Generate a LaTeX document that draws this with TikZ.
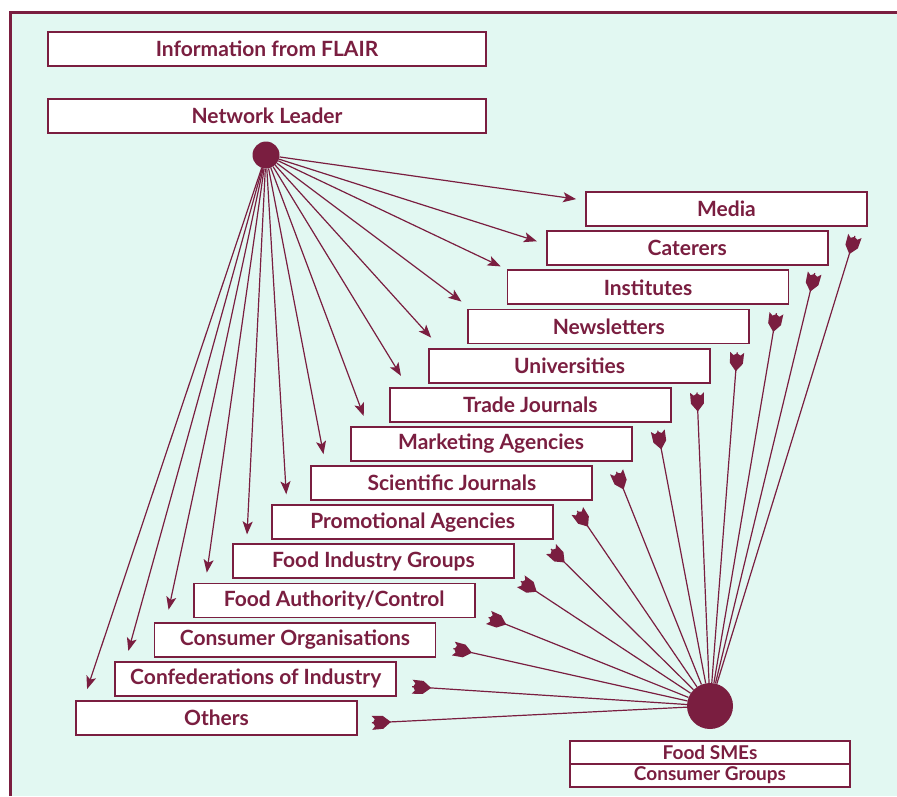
\documentclass[tikz,border=0pt]{standalone}
\usepackage{fontspec}
\setmainfont{Lato}
\usetikzlibrary{arrows.meta,decorations.markings,calc}
\definecolor{dred}{HTML}{7A1E40}
\definecolor{mint}{HTML}{E2F8F2}
\begin{document}
\begin{tikzpicture}[x=1pt,y=-1pt,
  box/.style={draw=dred, line width=1.8pt, fill=white, minimum width=281pt,
    minimum height=34pt, inner sep=0pt, text=dred,
    font=\fontsize{21}{24}\selectfont\bfseries},
  smallbox/.style={box, minimum width=280pt, minimum height=23pt,
    font=\fontsize{19}{21}\selectfont\bfseries},
  hub/.style={circle, fill=dred, draw=none, inner sep=0pt},
  conn/.style={draw=dred, line width=1.2pt},
  outarrow/.style={conn, -{Stealth[length=13pt,width=10pt,inset=3pt]}},
  tulip/.style={conn, postaction={decorate}, decoration={markings,
    mark=at position 1 with {\fill[dred] (0,7) -- (-3,3.5) -- (-1,0) -- (-3,-3.5)
      -- (0,-7) -- (-11,-6.5) -- (-19,0) -- (-11,6.5) -- cycle;}}}
]
\useasboundingbox (0,0) rectangle (897,796);
\fill[white] (0,0) rectangle (897,796);
\fill[mint] (10,12) rectangle (897,796);
\draw[dred, line width=3pt] (10,796) -- (10,12) -- (897,12);

\node[box, minimum width=438pt] (flair) at (267,49) {Information from FLAIR};
\node[box, minimum width=438pt] (leader) at (267,116) {Network Leader};
\node[hub, minimum size=27pt] (top) at (266,155) {};
\node[hub, minimum size=46pt] (bot) at (710,706) {};
\node[smallbox] (sme) at (710,752.5) {Food SMEs};
\node[smallbox] (cg) at (710,775.5) {Consumer Groups};

\foreach \i/\t/\ax/\ay/\bx/\by in {
  0/Media/-9/8/-13/9,
  1/Caterers/-9/11/-14/7,
  2/Institutes/-6/-3/-13/8,
  3/Newsletters/-6/-7/-13/8,
  4/Universities/3/-10/-14/9,
  5/Trade Journals/12/-11/-14/8,
  6/Marketing Agencies/14/-10/-16/10,
  7/Scientific Journals/13/-11/-16/10,
  8/Promotional Agencies/15/-10/-3/9,
  9/Food Industry Groups/15/-9/6/2,
  10/{Food Authority/Control}/14/-10/13/-1,
  11/Consumer Organisations/15/-12/17/-9,
  12/Confederations of Industry/14/-10/15/-10,
  13/Others/12/-11/14/-13}
{
  \node[box] (b\i) at ({726.5-39.23*\i},{209+39.15*\i}) {\t};
  \draw[outarrow] (top) -- ($(b\i.north west)+(\ax,\ay)$);
  \draw[tulip] (bot) -- ($(b\i.south east)+(\bx,\by)$);
}
\end{tikzpicture}
\end{document}
